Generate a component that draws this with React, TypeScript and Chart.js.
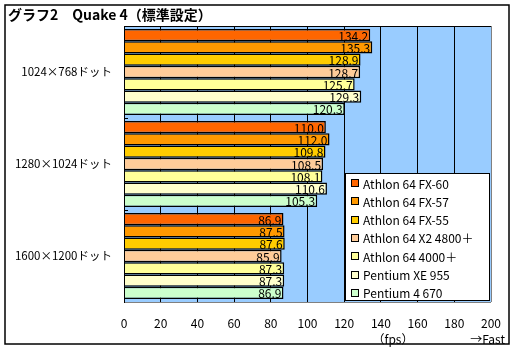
import React, { useEffect, useRef } from "react";
import { Chart, registerables } from "chart.js";

Chart.register(...registerables);

const categories = ["1024×768ドット", "1280×1024ドット", "1600×1200ドット"];
const seriesNames = [
  "Athlon 64 FX-60",
  "Athlon 64 FX-57",
  "Athlon 64 FX-55",
  "Athlon 64 X2 4800＋",
  "Athlon 64 4000＋",
  "Pentium XE 955",
  "Pentium 4 670",
];
const fx60 = [134.2, 110.0, 86.9];
const fx57 = [135.3, 112.0, 87.5];
const fx55 = [128.9, 109.8, 87.6];
const x24800 = [128.7, 108.5, 85.9];
const a4000 = [125.7, 108.1, 87.3];
const pxe955 = [129.3, 110.6, 87.3];
const p4670 = [120.3, 105.3, 86.9];
const seriesValues = [fx60, fx57, fx55, x24800, a4000, pxe955, p4670];
const seriesColors = ["#FF6600", "#FF9900", "#FFCC00", "#FFCC99", "#FFFF99", "#FFFFCC", "#CCFFCC"];
const xTicks = [0, 20, 40, 60, 80, 100, 120, 140, 160, 180, 200];
const titleText = "グラフ2　Quake 4（標準設定）";
const unitText = "（fps）";
const fastText = "→Fast";

const FONT = '"Noto Sans CJK JP", "DejaVu Sans", sans-serif';

const decorPlugin = {
  id: "decor",
  beforeDraw(chart: any) {
    const { ctx, chartArea: a } = chart;
    ctx.save();
    ctx.fillStyle = "#ffffff";
    ctx.fillRect(0, 0, chart.width, chart.height);
    ctx.fillStyle = "#99CCFF";
    ctx.fillRect(a.left, a.top, a.right - a.left, a.bottom - a.top);
    ctx.restore();
  },
  afterDatasetsDraw(chart: any) {
    const { ctx, chartArea: a } = chart;
    ctx.save();
    // value labels
    ctx.font = "12px " + FONT;
    ctx.fillStyle = "#000";
    ctx.textAlign = "right";
    ctx.textBaseline = "middle";
    chart.data.datasets.forEach((ds: any, i: number) => {
      const meta = chart.getDatasetMeta(i);
      meta.data.forEach((el: any, j: number) => {
        ctx.fillText(Number(ds.data[j]).toFixed(1), el.x - 2, el.y + 1);
      });
    });
    // plot frame
    ctx.lineWidth = 1;
    ctx.strokeStyle = "#000";
    ctx.beginPath();
    ctx.moveTo(a.left, a.top + 0.5);
    ctx.lineTo(a.right, a.top + 0.5);
    ctx.stroke();
    ctx.strokeStyle = "#808080";
    ctx.beginPath();
    ctx.moveTo(a.right + 0.5, a.top);
    ctx.lineTo(a.right + 0.5, a.bottom);
    ctx.moveTo(a.left, a.bottom + 0.5);
    ctx.lineTo(a.right, a.bottom + 0.5);
    ctx.stroke();
    ctx.strokeStyle = "#000";
    ctx.beginPath();
    ctx.moveTo(a.left + 0.5, a.top);
    ctx.lineTo(a.left + 0.5, a.bottom + 1);
    ctx.stroke();
    // group boundary marks
    const n = categories.length;
    const step = (a.bottom - a.top) / n;
    ctx.beginPath();
    for (let k = 1; k < n; k++) {
      const y = Math.round(a.top + step * k) + 0.5;
      ctx.moveTo(a.left, y);
      ctx.lineTo(a.left + 4, y);
    }
    ctx.stroke();

    // legend
    const lx = 345, ly = 173, lw = 144, lh = 127;
    ctx.fillStyle = "#fff";
    ctx.fillRect(lx, ly, lw, lh);
    ctx.strokeStyle = "#000";
    ctx.strokeRect(lx + 0.5, ly + 0.5, lw, lh);
    ctx.font = "12px " + FONT;
    ctx.textAlign = "left";
    ctx.textBaseline = "middle";
    seriesNames.forEach((name, i) => {
      const y = 183 + i * 18.3;
      ctx.fillStyle = seriesColors[i];
      ctx.fillRect(351, Math.round(y) - 4, 8, 8);
      ctx.strokeStyle = "#000";
      ctx.strokeRect(351.5, Math.round(y) - 3.5, 7, 7);
      ctx.fillStyle = "#000";
      ctx.fillText(name, 363, y + 1);
    });

    // title, units, outer frame
    ctx.font = "bold 14px " + FONT;
    ctx.textBaseline = "middle";
    ctx.fillText(titleText, 8, 15);
    ctx.font = "12px " + FONT;
    ctx.textAlign = "center";
    ctx.fillText(unitText, 393, 339);
    ctx.textAlign = "right";
    ctx.fillText(fastText, 505, 339);
    ctx.strokeStyle = "#000";
    ctx.lineWidth = 1.5;
    ctx.strokeRect(5, 5, 504, 339);
    ctx.restore();
  },
};

export default function App() {
  const ref = useRef<HTMLCanvasElement>(null);
  useEffect(() => {
    if (!ref.current) return;
    const chart = new Chart(ref.current, {
      type: "bar",
      data: {
        labels: categories,
        datasets: seriesNames.map((name, i) => ({
          label: name,
          data: seriesValues[i],
          backgroundColor: seriesColors[i],
          borderColor: "#000",
          borderWidth: 1.5,
          barPercentage: 1,
          categoryPercentage: 0.935,
        })),
      },
      options: {
        indexAxis: "y",
        animation: false,
        responsive: false,
        devicePixelRatio: 1,
        layout: { padding: { top: 26, right: 25, left: 0, bottom: 0 } },
        plugins: { legend: { display: false }, tooltip: { enabled: false }, title: { display: false } },
        scales: {
          x: {
            min: 0,
            max: 200,
            afterBuildTicks: (s: any) => {
              s.ticks = xTicks.map((v) => ({ value: v }));
            },
            afterFit: (s: any) => {
              s.height = 49;
            },
            grid: { color: "#000", lineWidth: 1, drawTicks: false },
            border: { display: false },
            ticks: { color: "#000", padding: 14, font: { size: 12, family: FONT } },
          },
          y: {
            afterFit: (s: any) => {
              s.width = 124;
            },
            grid: { display: false, drawTicks: false },
            border: { display: false },
            ticks: { color: "#000", padding: 12, font: { size: 11.5, family: FONT } },
          },
        },
      },
      plugins: [decorPlugin],
    } as any);
    return () => chart.destroy();
  }, []);
  return (
    <div style={{ position: "absolute", left: 0, top: 0, width: 516, height: 351 }}>
      <canvas ref={ref} width={516} height={351} style={{ width: 516, height: 351 }} />
    </div>
  );
}
